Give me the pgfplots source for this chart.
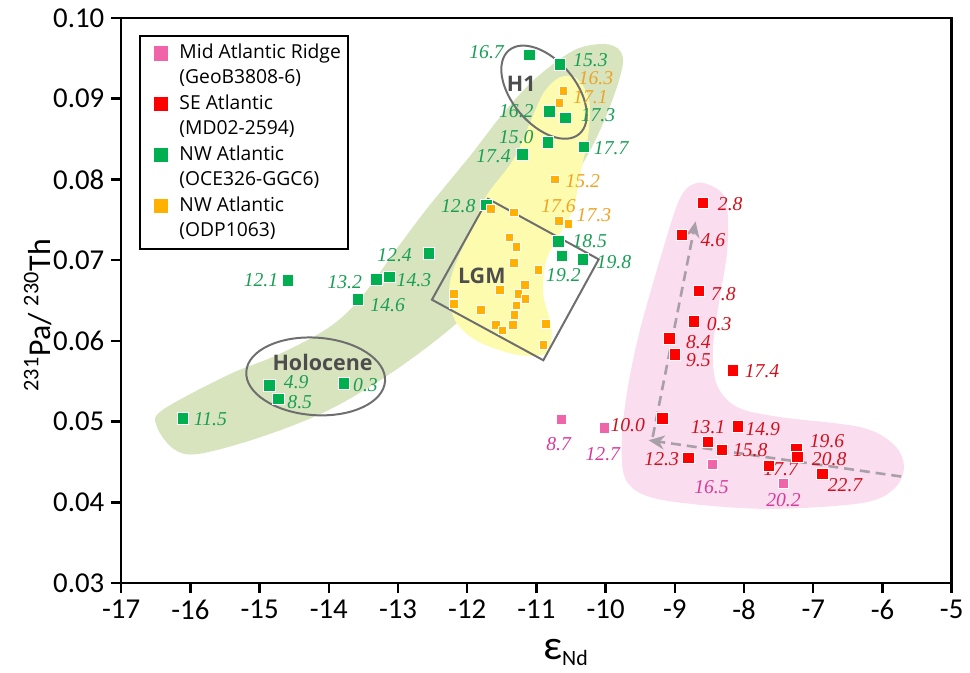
\documentclass[border=0pt]{standalone}
\usepackage{fontspec}
\setmainfont{Open Sans}
\newfontfamily\calfont{Carlito}
\newfontfamily\tnrfont{Liberation Serif}
\usepackage{pgfplots}
\pgfplotsset{compat=1.18}
\usetikzlibrary{arrows.meta}
\definecolor{gfill}{HTML}{D7E4BE}
\definecolor{yfill}{HTML}{FDFCAE}
\definecolor{pfill}{HTML}{FADDEE}
\definecolor{gmark}{HTML}{00B050}
\definecolor{omark}{HTML}{FFB000}
\definecolor{rmark}{HTML}{FF0000}
\definecolor{pmark}{HTML}{F064AA}
\definecolor{gtext}{HTML}{1A9E55}
\definecolor{otext}{HTML}{EDA425}
\definecolor{rtext}{HTML}{D0101C}
\definecolor{ptext}{HTML}{D63A9C}
\definecolor{linec}{HTML}{6E6E6E}
\definecolor{arrc}{HTML}{A89FA9}
\definecolor{boldc}{HTML}{4D4D4D}
\newcommand\lab[4]{\node[text=#1, inner sep=0pt, font=\tnrfont\itshape\fontsize{9.9}{10.5}\selectfont] at (axis cs:#2,#3) {#4};}
\begin{document}
\begin{tikzpicture}
\path (-61pt,-44pt) rectangle (424pt,293.5pt);
\begin{axis}[
  at={(0pt,0pt)}, anchor=south west,
  scale only axis, width=418pt, height=284.5pt,
  xmin=-17, xmax=-5, ymin=0.03, ymax=0.10,
  xtick={-17,-16,-15,-14,-13,-12,-11,-10,-9,-8,-7,-6,-5},
  ytick={0.03,0.04,0.05,0.06,0.07,0.08,0.09,0.10},
  yticklabel style={/pgf/number format/fixed, /pgf/number format/fixed zerofill, /pgf/number format/precision=2},
  /pgf/number format/assume math mode=true,
  tick label style={font=\calfont\fontsize{14.5}{16}\selectfont},
  axis line style={line width=1.2pt},
  tick style={black, line width=1.2pt},
  major tick length=5pt,
  tick align=outside,
  xtick pos=bottom, ytick pos=left,
  xlabel={{\calfont\fontsize{21}{22}\selectfont ε}{\calfont\fontsize{11}{12}\selectfont\raisebox{-3pt}{Nd}}},
  xlabel style={at={(axis description cs:0.535,-0.123)}, anchor=center},
  ylabel={{\calfont\fontsize{16}{17}\selectfont\textsuperscript{231}Pa/ \textsuperscript{230}Th}},
  ylabel style={at={(axis description cs:-0.100,0.474)}, anchor=center},
  legend style={at={(0,1)}, anchor=north west, xshift=9pt, yshift=-8.5pt, draw=black, line width=1pt,
    font=\fontsize{9.7}{11}\selectfont, cells={anchor=west}, row sep=0pt, column sep=4pt,
    nodes={inner sep=1.5pt, text height=7.4pt, text depth=2.4pt}, inner xsep=2pt, inner ysep=2.5pt},
  legend cell align=left,
]
% background regions
\fill[gfill] plot[smooth cycle, tension=0.55] coordinates {
 (axis cs:-16.48,0.0493) (axis cs:-16.24,0.0466) (axis cs:-15.88,0.0460) (axis cs:-14.98,0.0481)
 (axis cs:-14.01,0.0514) (axis cs:-13.05,0.0563) (axis cs:-12.11,0.0625) (axis cs:-11.57,0.0678)
 (axis cs:-11.07,0.0745) (axis cs:-10.50,0.0798) (axis cs:-10.14,0.0850) (axis cs:-9.85,0.0911)
 (axis cs:-9.75,0.0951) (axis cs:-9.95,0.0967) (axis cs:-10.43,0.0961) (axis cs:-11.00,0.0926)
 (axis cs:-11.47,0.0883) (axis cs:-11.96,0.0829) (axis cs:-12.58,0.0764) (axis cs:-13.01,0.0715)
 (axis cs:-13.54,0.0653) (axis cs:-14.01,0.0616) (axis cs:-14.73,0.0583) (axis cs:-15.45,0.0558)
 (axis cs:-16.41,0.0514)};
\fill[yfill] plot[smooth cycle, tension=0.55] coordinates {
 (axis cs:-10.67,0.0926) (axis cs:-10.43,0.0926) (axis cs:-10.24,0.0899) (axis cs:-10.25,0.0856)
 (axis cs:-10.35,0.0813) (axis cs:-10.47,0.0764) (axis cs:-10.67,0.0731) (axis cs:-10.86,0.0699)
 (axis cs:-10.90,0.0657) (axis cs:-10.78,0.0616) (axis cs:-10.86,0.0585) (axis cs:-11.29,0.0583)
 (axis cs:-11.86,0.0600) (axis cs:-12.18,0.0626) (axis cs:-12.26,0.0665) (axis cs:-12.15,0.0699)
 (axis cs:-11.93,0.0739) (axis cs:-11.72,0.0780) (axis cs:-11.33,0.0825) (axis cs:-11.07,0.0875)
 (axis cs:-10.89,0.0908)};
\fill[pfill] plot[smooth cycle, tension=0.55] coordinates {
 (axis cs:-8.56,0.0795) (axis cs:-8.27,0.0776) (axis cs:-8.24,0.0715) (axis cs:-8.36,0.0649)
 (axis cs:-8.45,0.0588) (axis cs:-8.39,0.0545) (axis cs:-8.10,0.0518) (axis cs:-7.51,0.0506)
 (axis cs:-6.31,0.0493) (axis cs:-5.83,0.0471) (axis cs:-5.69,0.0444) (axis cs:-5.83,0.0417)
 (axis cs:-6.31,0.0399) (axis cs:-7.74,0.0392) (axis cs:-9.18,0.0403) (axis cs:-9.67,0.0423)
 (axis cs:-9.77,0.0462) (axis cs:-9.71,0.0526) (axis cs:-9.52,0.0608) (axis cs:-9.18,0.0711)
 (axis cs:-8.95,0.0772) (axis cs:-8.78,0.0792)};
% outlines
\draw[linec, line width=1pt, rotate around={-50:(axis cs:-10.89,0.0908)}] (axis cs:-10.89,0.0908) ellipse [x radius=27.5pt, y radius=16pt];
\draw[linec, line width=1pt, rotate around={-4:(axis cs:-14.19,0.0556)}] (axis cs:-14.19,0.0556) ellipse [x radius=35pt, y radius=19.5pt];
\draw[linec, line width=1pt] (axis cs:-11.70,0.0776) -- (axis cs:-10.10,0.0701) -- (axis cs:-10.90,0.0576) -- (axis cs:-12.51,0.0651) -- cycle;
% arrows
\draw[arrc, line width=1.3pt, dash pattern=on 5pt off 3pt, -{Stealth[length=8pt, width=7pt, inset=2.5pt]}] (axis cs:-5.73,0.0432) -- (axis cs:-9.38,0.0477);
\draw[arrc, line width=1.3pt, dash pattern=on 5pt off 3pt, -{Stealth[length=8pt, width=7pt, inset=2.5pt]}] (axis cs:-9.32,0.0481) -- (axis cs:-8.70,0.0748);
% data
\addplot[only marks, mark=square*, mark size=2.6pt, color=pmark, mark options={draw=white, line width=0.5pt}, forget plot] table {
x y
-10.64 0.0503
-10.02 0.0492
-8.46 0.0447
-7.43 0.0423
};
\addplot[only marks, mark=square*, mark size=2.9pt, color=rmark, mark options={draw=white, line width=0.5pt}, forget plot] table {
x y
-8.59 0.0771
-8.90 0.0731
-8.65 0.0662
-8.72 0.0624
-9.08 0.0603
-9.00 0.0583
-8.16 0.0563
-9.18 0.0504
-8.52 0.0475
-8.09 0.0494
-8.32 0.0465
-8.80 0.0455
-7.64 0.0445
-7.24 0.0466
-7.23 0.0456
-6.87 0.0435
};
\addplot[only marks, mark=square*, mark size=2.9pt, color=gmark, mark options={draw=white, line width=0.5pt}, forget plot] table {
x y
-11.10 0.0954
-10.66 0.0942
-10.81 0.0884
-10.58 0.0876
-10.83 0.0846
-11.20 0.0831
-10.31 0.0840
-11.72 0.0768
-10.68 0.0723
-10.63 0.0705
-10.33 0.0701
-12.55 0.0708
-14.59 0.0675
-13.31 0.0676
-13.12 0.0679
-13.58 0.0651
-14.86 0.0545
-14.73 0.0528
-13.78 0.0547
-16.11 0.0504
};
\addplot[only marks, mark=square*, mark size=2.2pt, color=omark, mark options={draw=white, line width=0.4pt}, forget plot] table {
x y
-10.61 0.0910
-10.67 0.0895
-10.73 0.0800
-10.68 0.0749
-10.54 0.0745
-11.66 0.0763
-11.33 0.0759
-11.39 0.0728
-11.29 0.0716
-11.33 0.0697
-10.97 0.0688
-11.17 0.0669
-11.53 0.0663
-11.26 0.0658
-11.16 0.0652
-12.19 0.0658
-12.19 0.0646
-11.29 0.0644
-11.80 0.0638
-11.32 0.0632
-11.34 0.0620
-11.59 0.0620
-11.49 0.0613
-10.86 0.0621
-10.90 0.0595
};
% legend
\addlegendimage{only marks, mark=square*, mark size=3.8pt, color=pmark, mark options={draw=white, line width=0.5pt}}
\addlegendentry{Mid Atlantic Ridge}
\addlegendimage{empty legend}
\addlegendentry{(GeoB3808-6)}
\addlegendimage{only marks, mark=square*, mark size=3.8pt, color=rmark, mark options={draw=white, line width=0.5pt}}
\addlegendentry{SE Atlantic}
\addlegendimage{empty legend}
\addlegendentry{(MD02-2594)}
\addlegendimage{only marks, mark=square*, mark size=3.8pt, color=gmark, mark options={draw=white, line width=0.5pt}}
\addlegendentry{NW Atlantic}
\addlegendimage{empty legend}
\addlegendentry{(OCE326-GGC6)}
\addlegendimage{only marks, mark=square*, mark size=3.8pt, color=omark, mark options={draw=white, line width=0.5pt}}
\addlegendentry{NW Atlantic}
\addlegendimage{empty legend}
\addlegendentry{(ODP1063)}
% bold labels
\node[text=boldc, font=\bfseries\fontsize{10.8}{12}\selectfont] at (axis cs:-11.22,0.0918) {H1};
\node[text=boldc, font=\bfseries\fontsize{10.8}{12}\selectfont] at (axis cs:-11.79,0.0681) {LGM};
\node[text=boldc, font=\bfseries\fontsize{10.8}{12}\selectfont] at (axis cs:-14.09,0.0573) {Holocene};
% green labels
\lab{gtext}{-11.72}{0.09582}{16.7}
\lab{gtext}{-10.22}{0.09480}{15.3}
\lab{gtext}{-11.29}{0.08844}{16.2}
\lab{gtext}{-10.11}{0.08790}{17.3}
\lab{gtext}{-11.29}{0.08524}{15.0}
\lab{gtext}{-11.62}{0.08290}{17.4}
\lab{gtext}{-9.92}{0.08389}{17.7}
\lab{gtext}{-12.13}{0.07675}{12.8}
\lab{gtext}{-10.23}{0.07232}{18.5}
\lab{gtext}{-10.61}{0.06814}{19.2}
\lab{gtext}{-9.88}{0.06974}{19.8}
\lab{gtext}{-13.05}{0.07060}{12.4}
\lab{gtext}{-14.98}{0.06753}{12.1}
\lab{gtext}{-13.77}{0.06728}{13.2}
\lab{gtext}{-12.77}{0.06753}{14.3}
\lab{gtext}{-13.15}{0.06445}{14.6}
\lab{gtext}{-14.47}{0.05490}{4.9}
\lab{gtext}{-14.42}{0.05245}{8.5}
\lab{gtext}{-13.47}{0.05449}{0.3}
\lab{gtext}{-15.71}{0.05031}{11.5}
% orange labels
\lab{otext}{-10.14}{0.09250}{16.3}
\lab{otext}{-10.22}{0.09020}{17.1}
\lab{otext}{-10.33}{0.07983}{15.2}
\lab{otext}{-10.68}{0.07663}{17.6}
\lab{otext}{-10.17}{0.07552}{17.3}
% red labels
\lab{rtext}{-8.20}{0.07700}{2.8}
\lab{rtext}{-8.45}{0.07245}{4.6}
\lab{rtext}{-8.30}{0.06581}{7.8}
\lab{rtext}{-8.36}{0.06212}{0.3}
\lab{rtext}{-8.66}{0.05990}{8.4}
\lab{rtext}{-8.66}{0.05757}{9.5}
\lab{rtext}{-7.74}{0.05621}{17.4}
\lab{rtext}{-9.68}{0.04957}{10.0}
\lab{rtext}{-8.52}{0.04932}{13.1}
\lab{rtext}{-7.73}{0.04908}{14.9}
\lab{rtext}{-7.91}{0.04649}{15.8}
\lab{rtext}{-9.19}{0.04539}{12.3}
\lab{rtext}{-7.47}{0.04416}{17.7}
\lab{rtext}{-6.80}{0.04760}{19.6}
\lab{rtext}{-6.77}{0.04539}{20.8}
\lab{rtext}{-6.54}{0.04219}{22.7}
% pink labels
\lab{ptext}{-10.68}{0.04723}{8.7}
\lab{ptext}{-10.04}{0.04600}{12.7}
\lab{ptext}{-8.47}{0.04194}{16.5}
\lab{ptext}{-7.43}{0.04034}{20.2}
\end{axis}
\end{tikzpicture}
\end{document}
